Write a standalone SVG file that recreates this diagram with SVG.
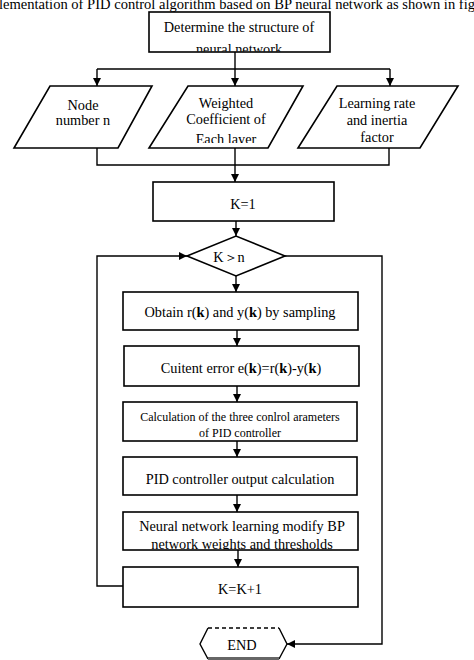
<svg xmlns="http://www.w3.org/2000/svg" width="474" height="660" viewBox="0 0 474 660">
<defs>
<marker id="ah" markerWidth="8" markerHeight="8" refX="8" refY="4" orient="auto" markerUnits="userSpaceOnUse">
<path d="M0,0 L8,4 L0,8 Z" fill="#000"/>
</marker>
<clipPath id="c0"><rect x="149" y="12" width="181" height="39.5"/></clipPath>
<clipPath id="c1"><rect x="140" y="86" width="170" height="57"/></clipPath>
<clipPath id="c5"><rect x="123" y="512" width="235" height="37.5"/></clipPath>
</defs>
<style>
.box{fill:#fff;stroke:#000;stroke-width:1.6}
.ln{fill:none;stroke:#000;stroke-width:1.4}
.t{font-family:"Liberation Serif","Times New Roman",serif;font-size:14.3px;fill:#000;text-anchor:middle}
.s{font-size:12px}
</style>
<rect width="474" height="660" fill="#fff"/>
<text x="-1" y="9" font-family="Liberation Serif, serif" font-size="14" textLength="476" lengthAdjust="spacingAndGlyphs">lementation of PID control algorithm based on BP neural network as shown in fig</text>

<g id="connectors">
<path class="ln" d="M235,52 V69"/>
<path class="ln" d="M97,69 H390"/>
<path class="ln" d="M97,69 V86" marker-end="url(#ah)"/>
<path class="ln" d="M235,69 V86" marker-end="url(#ah)"/>
<path class="ln" d="M390,69 V86" marker-end="url(#ah)"/>
<path class="ln" d="M97,148 V165 H389 V148"/>
<path class="ln" d="M235,148 V182" marker-end="url(#ah)"/>
<path class="ln" d="M236,221 V236" marker-end="url(#ah)"/>
<path class="ln" d="M236,276 V292" marker-end="url(#ah)"/>
<path class="ln" d="M237,330 V346" marker-end="url(#ah)"/>
<path class="ln" d="M237,386 V402" marker-end="url(#ah)"/>
<path class="ln" d="M237,441 V457" marker-end="url(#ah)"/>
<path class="ln" d="M237,495 V512" marker-end="url(#ah)"/>
<path class="ln" d="M238,550 V567" marker-end="url(#ah)"/>
<path class="ln" d="M123,586 H97 V256 H187" marker-end="url(#ah)"/>
<path class="ln" d="M285,256 H382 V644 H287" marker-end="url(#ah)"/>
</g>

<g id="n-structure">
<rect class="box" x="149" y="12" width="181" height="40"/>
<text class="t" x="239" y="32">Determine the structure of</text>
<text class="t" x="239" y="54" clip-path="url(#c0)">neural network</text>
</g>

<g id="n-node">
<polygon class="box" points="50,86 152,86 118,148 14,148"/>
<text class="t" x="83" y="110">Node</text>
<text class="t" x="83" y="125">number n</text>
</g>

<g id="n-weight">
<polygon class="box" points="188,86 303,86 268,148 149,148"/>
<text class="t" x="226" y="108">Weighted</text>
<text class="t" x="226" y="124">Coefficient of</text>
<text class="t" x="226" y="144" clip-path="url(#c1)">Each layer</text>
</g>

<g id="n-learning">
<polygon class="box" points="337,86 458,86 420,148 298,148"/>
<text class="t" x="377" y="108">Learning rate</text>
<text class="t" x="377" y="125">and inertia</text>
<text class="t" x="377" y="142">factor</text>
</g>

<g id="n-k1">
<rect class="box" x="153" y="182" width="181" height="39"/>
<text class="t" x="243" y="209">K=1</text>
</g>

<g id="n-cond">
<polygon class="box" points="187,256 236,236 285,256 236,276"/>
<text class="t" x="229" y="262" font-family="Liberation Serif, Noto Sans CJK SC, serif">K＞n</text>
</g>

<g id="n-obtain">
<rect class="box" x="123" y="292" width="235" height="38"/>
<text class="t" x="240" y="317">Obtain r(<tspan font-weight="bold">k</tspan>) and y(<tspan font-weight="bold">k</tspan>) by sampling</text>
</g>

<g id="n-error">
<rect class="box" x="124" y="346" width="235" height="40"/>
<text class="t" x="241" y="373">Cuitent error e(<tspan font-weight="bold">k</tspan>)=r(<tspan font-weight="bold">k</tspan>)-y(<tspan font-weight="bold">k</tspan>)</text>
</g>

<g id="n-calc">
<rect class="box" x="123" y="402" width="234" height="39"/>
<text class="t s" x="240" y="421">Calculation of the three conlrol arameters</text>
<text class="t s" x="240" y="437">of PID controller</text>
</g>

<g id="n-output">
<rect class="box" x="123" y="457" width="234" height="38"/>
<text class="t" x="240" y="484">PID controller output calculation</text>
</g>

<g id="n-learn">
<rect class="box" x="123" y="512" width="235" height="38"/>
<text class="t" x="242" y="531">Neural network learning modify BP</text>
<text class="t" x="242" y="549" clip-path="url(#c5)">network weights and thresholds</text>
</g>

<g id="n-kinc">
<rect class="box" x="123" y="567" width="235" height="40"/>
<text class="t" x="240" y="594">K=K+1</text>
</g>

<g id="n-end">
<path class="ln" d="M208,628 L200,644 L208,659 M279,628 L287,644 L279,659"/>
<path class="ln" d="M208,628 H279" stroke-dasharray="4,3"/>
<rect x="208" y="657" width="71" height="3" fill="#666"/>
<text class="t" x="242" y="650">END</text>
</g>
</svg>
